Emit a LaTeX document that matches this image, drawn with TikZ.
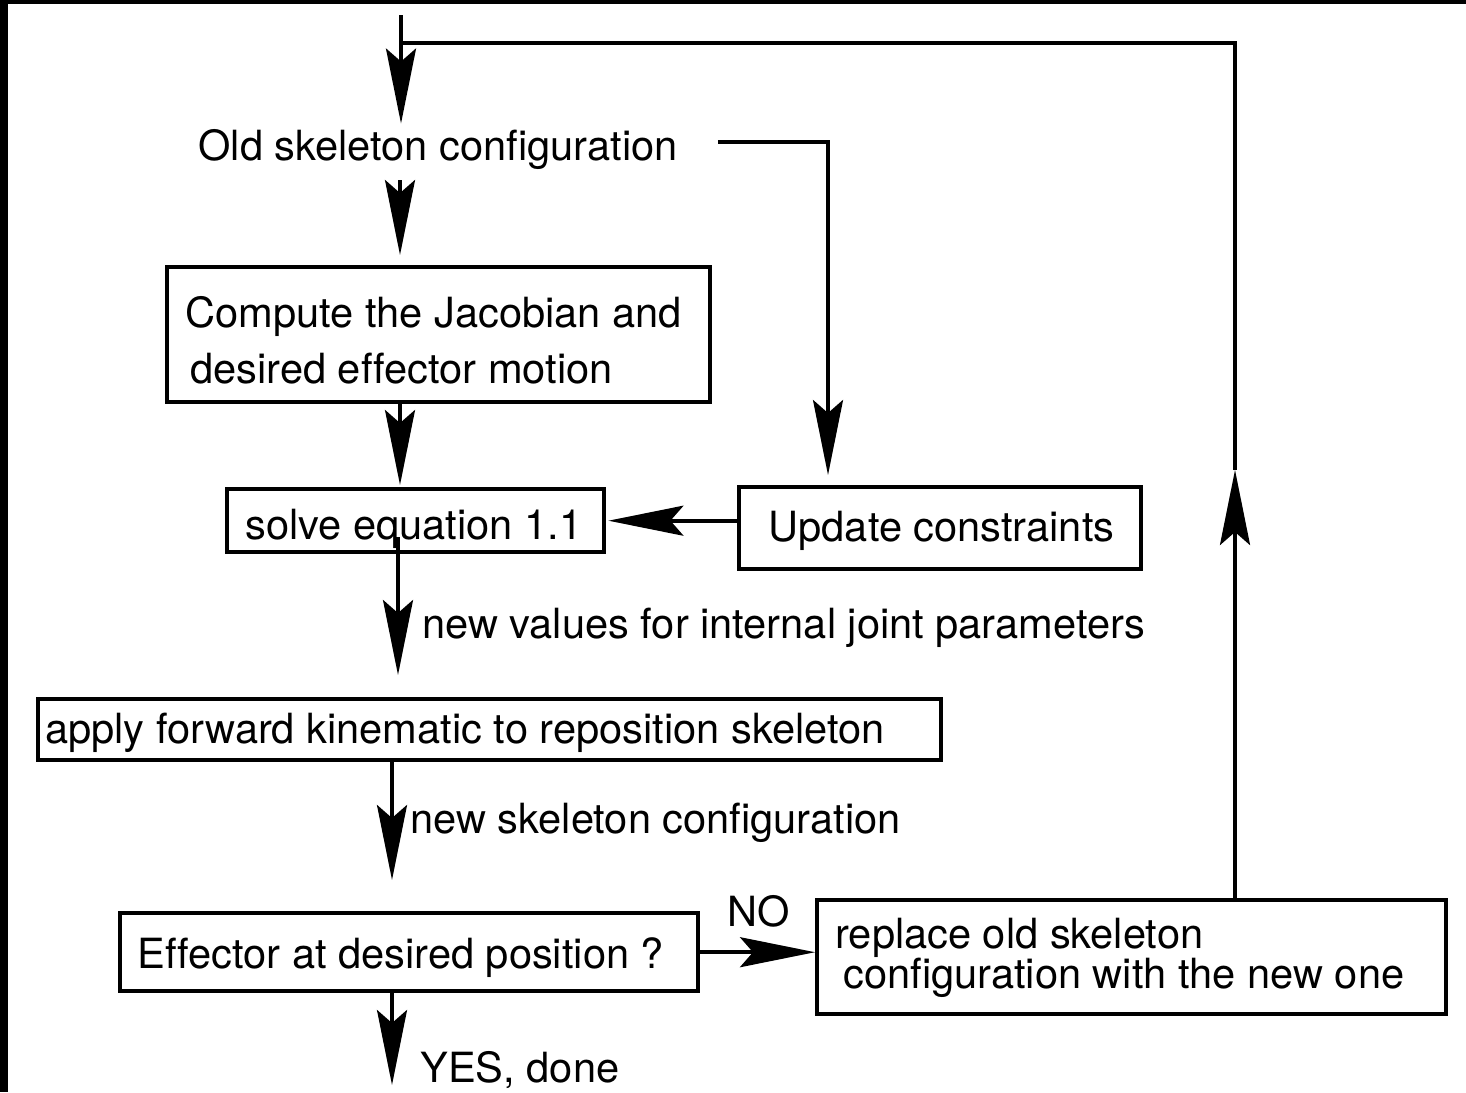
\documentclass[tikz,border=0pt]{standalone}
\usepackage{fontspec}
\setmainfont{TeX Gyre Heros}[Ligatures=NoCommon]
\usetikzlibrary{arrows.meta}
\tikzset{
  bigtip/.tip={Stealth[length=37.5pt,width=15pt,inset=6.5pt]},
  conn/.style={line width=1.8pt},
  flow/.style={conn,-{bigtip}},
  boxst/.style={draw,line width=2.2pt,rectangle,anchor=north west,inner sep=0pt},
  txt/.style={inner sep=0pt,anchor=base west,font=\fontsize{20.8pt}{28pt}\selectfont},
}
\begin{document}
\begin{tikzpicture}[x=0.5pt,y=-0.5pt]
% canvas and frame strips
\fill[white] (0,0) rectangle (1466,1092);
\useasboundingbox (0,0) rectangle (1466,1092);
\fill[black] (0,0) rectangle (8,1092);
\fill[black] (0,0) rectangle (1466,4);

% boxes
\node[boxst,minimum width=271.5pt,minimum height=67.5pt] (compute) at (165,265) {};
\node[boxst,minimum width=188.5pt,minimum height=31.5pt] (solve) at (225,487) {};
\node[boxst,minimum width=201pt,minimum height=41pt] (update) at (737,485) {};
\node[boxst,minimum width=451.5pt,minimum height=30.5pt] (apply) at (36,697) {};
\node[boxst,minimum width=289pt,minimum height=39pt] (effector) at (118,911) {};
\node[boxst,minimum width=314.5pt,minimum height=57pt] (replace) at (815,898) {};

% texts
\node[txt] (old) at (198,160) {Old skeleton configuration};
\node[txt] (computeA) at (185,327) {Compute the Jacobian and};
\node[txt] (computeB) at (190,383) {desired effector motion};
\node[txt] (solveT) at (245,539) {solve equation 1.1};
\node[txt] (updateT) at (768,541) {Update constraints};
\node[txt] (valuesL) at (422,638) {new values for internal joint parameters};
\node[txt] (applyT) at (45,743) {apply forward kinematic to reposition skeleton};
\node[txt] (newskelL) at (410,833) {new skeleton configuration};
\node[txt] (effT) at (137,968) {Effector at desired position ?};
\node[txt] (noL) at (727,926) {NO};
\node[txt] (replA) at (835,948) {replace old skeleton};
\node[txt] (replB) at (843,988) {configuration with the new one};
\node[txt] (yesL) at (420,1082) {YES, done};

% reference columns and loop corners
\coordinate (cin) at (401,15);
\coordinate (c1) at (400,0);
\coordinate (c2) at (398,0);
\coordinate (c3) at (392,0);
\coordinate (ucol) at (828,142);
\coordinate (upTip) at (1235,470);
\coordinate (topR) at (1235,43);
\coordinate (topL) at (401,43);
\coordinate (yesEnd) at (392,1085);

% main flow
\draw[flow,shorten >=2.5pt] (cin) -- (cin |- old.north);
\draw[flow,shorten <=5.5pt,shorten >=5pt] (old.south -| c1) -- (compute.north -| c1);
\draw[flow,shorten >=1pt] (compute.south -| c1) -- (solve.north -| c1);
\draw[flow,shorten >=11pt] ([yshift=8.5pt]solve.south -| c2) -- (apply.north -| c2);
\draw[flow,shorten >=15.5pt] (apply.south -| c3) -- (effector.north -| c3);
\draw[flow] (effector.south -| c3) -- (yesEnd);
\draw[flow] (effector.east) -- (effector.east -| replace.west);

% constraint branch
\draw[flow,shorten >=5pt] ([shift={(20pt,9pt)}]old.base east) -- (ucol) -- (update.north -| ucol);
\draw[flow,shorten >=1pt] (solve.east -| update.west) -- (solve.east);

% feedback loop
\draw[flow] (replace.north -| upTip) -- (upTip);
\draw[conn] (upTip) -- (topR) -- (topL);
\end{tikzpicture}
\end{document}
